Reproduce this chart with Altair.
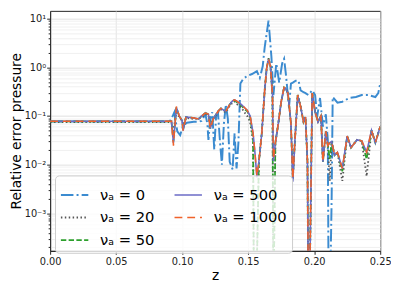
import altair as alt
import pandas as pd

labels = ["νₐ = 0", "νₐ = 20", "νₐ = 50", "νₐ = 500", "νₐ = 1000"]

# nu_a = 0
z0 = [0.0, 0.0904, 0.0919, 0.0941, 0.0963, 0.0985, 0.1007, 0.1036, 0.1088, 0.1125, 0.1147,
      0.1176, 0.1191, 0.1199, 0.1213, 0.1228, 0.1243, 0.1257, 0.1272, 0.1287, 0.1301, 0.1316,
      0.1331, 0.1346, 0.1360, 0.1382, 0.1397, 0.1412, 0.1426, 0.1441, 0.1463, 0.1493, 0.1529,
      0.1566, 0.1588, 0.1610, 0.1625, 0.1654, 0.1676, 0.1691, 0.1713, 0.1735, 0.1757, 0.1772,
      0.1787, 0.1809, 0.1824, 0.1838, 0.1860, 0.1882, 0.1897, 0.1919, 0.1934, 0.1956, 0.1985,
      0.2007, 0.2022, 0.2044, 0.2066, 0.2088, 0.2103, 0.2110, 0.2118, 0.2132, 0.2140, 0.2176,
      0.2213, 0.2265, 0.2316, 0.2360, 0.2412, 0.2463, 0.2485, 0.2500]
v0 = [0.077, 0.077, 0.0873, 0.120, 0.0486, 0.0406, 0.0637, 0.0729, 0.0763, 0.0763, 0.0798,
      0.109, 0.0697, 0.0324, 0.0873, 0.120, 0.0206, 0.100, 0.109, 0.0283, 0.0100, 0.0697,
      0.172, 0.0873, 0.0115, 0.00799, 0.0444, 0.00836, 0.0283, 0.465, 0.583, 0.667, 0.730,
      0.835, 0.609, 1.05, 2.58, 9.14, 1.64, 0.270, 1.20, 0.486, 1.20, 1.50,
      0.667, 0.150, 0.465, 0.486, 0.531, 0.531, 0.338, 0.309, 0.296, 0.270, 0.338,
      0.270, 0.0956, 0.235, 0.0609, 0.109, 0.0324, 0.00001, 0.00001, 0.00188, 0.246, 0.188,
      0.197, 0.235, 0.246, 0.270, 0.270, 0.246, 0.296, 0.465]

# nu_a = 20
z20 = [0.0, 0.0919, 0.0934, 0.0956, 0.0978, 0.1000, 0.1007, 0.1029, 0.1088, 0.1125, 0.1147,
       0.1176, 0.1199, 0.1213, 0.1235, 0.1272, 0.1294, 0.1316, 0.1331, 0.1360, 0.1382, 0.1397,
       0.1419, 0.1449, 0.1471, 0.1493, 0.1515, 0.1537, 0.1544, 0.1559, 0.1581, 0.1603, 0.1625,
       0.1640, 0.1654, 0.1669, 0.1684, 0.1691, 0.1706, 0.1728, 0.1750, 0.1772, 0.1787, 0.1801,
       0.1824, 0.1838, 0.1853, 0.1875, 0.1897, 0.1919, 0.1934, 0.1949, 0.1956, 0.1963, 0.1985,
       0.2007, 0.2029, 0.2051, 0.2066, 0.2088, 0.2103, 0.2118, 0.2132, 0.2154, 0.2176, 0.2213,
       0.2250, 0.2279, 0.2324, 0.2360, 0.2397, 0.2434, 0.2463, 0.2485, 0.2500]
v20 = [0.075, 0.075, 0.050, 0.120, 0.095, 0.0798, 0.060, 0.0913, 0.0873, 0.0873, 0.0956,
       0.109, 0.105, 0.060, 0.0873, 0.120, 0.137, 0.125, 0.120, 0.160, 0.190, 0.200,
       0.172, 0.150, 0.120, 0.100, 0.075, 0.030, 0.00001, 0.00001, 0.0115, 0.0444, 0.338,
       0.957, 1.55, 1.05, 0.270, 0.00001, 0.0283, 0.0697, 0.197, 0.387, 0.354, 0.296,
       0.0697, 0.00508, 0.0283, 0.270, 0.157, 0.0763, 0.0956, 0.0115, 0.00001, 0.00001, 0.296,
       0.120, 0.0763, 0.100, 0.0115, 0.0486, 0.0247, 0.00464, 0.030, 0.0157, 0.0180, 0.00464,
       0.0388, 0.0225, 0.0324, 0.0309, 0.0058, 0.0508, 0.0283, 0.0444, 0.0609]

# nu_a = 50
z50 = [0.0, 0.0919, 0.0934, 0.0956, 0.0978, 0.1000, 0.1007, 0.1029, 0.1088, 0.1125, 0.1147,
       0.1176, 0.1199, 0.1213, 0.1235, 0.1272, 0.1294, 0.1316, 0.1331, 0.1360, 0.1382, 0.1397,
       0.1419, 0.1449, 0.1471, 0.1493, 0.1515, 0.1537, 0.1544, 0.1559, 0.1581, 0.1603, 0.1625,
       0.1640, 0.1654, 0.1669, 0.1684, 0.1691, 0.1706, 0.1728, 0.1750, 0.1772, 0.1787, 0.1801,
       0.1824, 0.1838, 0.1853, 0.1875, 0.1897, 0.1919, 0.1934, 0.1949, 0.1956, 0.1963, 0.1985,
       0.2007, 0.2029, 0.2051, 0.2066, 0.2088, 0.2103, 0.2118, 0.2132, 0.2154, 0.2176, 0.2213,
       0.2250, 0.2279, 0.2324, 0.2360, 0.2397, 0.2434, 0.2463, 0.2485, 0.2500]
v50 = [0.078, 0.078, 0.030, 0.150, 0.100, 0.0798, 0.052, 0.0956, 0.0913, 0.0873, 0.100,
       0.115, 0.109, 0.0556, 0.0873, 0.125, 0.144, 0.131, 0.125, 0.172, 0.206, 0.210,
       0.188, 0.165, 0.140, 0.125, 0.0956, 0.035, 0.00001, 0.00001, 0.0115, 0.0444, 0.338,
       0.957, 1.50, 1.05, 0.270, 0.00001, 0.0283, 0.0697, 0.197, 0.387, 0.354, 0.296,
       0.0697, 0.00508, 0.0283, 0.270, 0.157, 0.0763, 0.0956, 0.0115, 0.00001, 0.00001, 0.296,
       0.120, 0.0763, 0.100, 0.0115, 0.0486, 0.0247, 0.0131, 0.030, 0.0157, 0.0180, 0.00729,
       0.0388, 0.0225, 0.0324, 0.0309, 0.0131, 0.0508, 0.0283, 0.0444, 0.0609]

# nu_a = 500
z500 = [0.0, 0.0919, 0.0934, 0.0956, 0.0978, 0.1000, 0.1007, 0.1029, 0.1088, 0.1125, 0.1147,
        0.1176, 0.1199, 0.1213, 0.1235, 0.1272, 0.1294, 0.1316, 0.1331, 0.1360, 0.1382, 0.1397,
        0.1419, 0.1449, 0.1471, 0.1493, 0.1515, 0.1537, 0.1551, 0.1566, 0.1581, 0.1603, 0.1625,
        0.1640, 0.1654, 0.1669, 0.1684, 0.1691, 0.1706, 0.1728, 0.1750, 0.1772, 0.1787, 0.1801,
        0.1824, 0.1838, 0.1853, 0.1875, 0.1897, 0.1919, 0.1934, 0.1949, 0.1956, 0.1963, 0.1985,
        0.2007, 0.2029, 0.2051, 0.2066, 0.2088, 0.2103, 0.2118, 0.2132, 0.2154, 0.2176, 0.2213,
        0.2250, 0.2279, 0.2324, 0.2360, 0.2397, 0.2434, 0.2463, 0.2485, 0.2500]
v500 = [0.078, 0.078, 0.028, 0.150, 0.100, 0.0798, 0.050, 0.0956, 0.0913, 0.0873, 0.100,
        0.115, 0.109, 0.0556, 0.0873, 0.125, 0.144, 0.131, 0.125, 0.172, 0.206, 0.215,
        0.197, 0.172, 0.150, 0.131, 0.100, 0.0444, 0.0180, 0.0055, 0.0115, 0.0444, 0.338,
        0.957, 1.48, 1.05, 0.270, 0.0120, 0.0283, 0.0697, 0.197, 0.380, 0.354, 0.296,
        0.0697, 0.0045, 0.0283, 0.265, 0.157, 0.0763, 0.0956, 0.0115, 0.00001, 0.00001, 0.296,
        0.120, 0.0763, 0.100, 0.0115, 0.0486, 0.0247, 0.0283, 0.030, 0.0157, 0.0180, 0.00836,
        0.0388, 0.0225, 0.0324, 0.0309, 0.0180, 0.0508, 0.0283, 0.0444, 0.0609]

# nu_a = 1000
z1000 = z500
v1000 = [0.078, 0.078, 0.0247, 0.157, 0.100, 0.0798, 0.050, 0.0956, 0.0913, 0.0873, 0.100,
         0.115, 0.109, 0.0556, 0.0873, 0.125, 0.144, 0.131, 0.125, 0.172, 0.206, 0.215,
         0.197, 0.172, 0.150, 0.131, 0.100, 0.0444, 0.0180, 0.00582, 0.0115, 0.0444, 0.338,
         0.957, 1.50, 1.05, 0.270, 0.0131, 0.0283, 0.0697, 0.197, 0.387, 0.354, 0.296,
         0.0697, 0.00508, 0.0283, 0.270, 0.157, 0.0763, 0.0956, 0.0115, 0.00001, 0.00001, 0.296,
         0.120, 0.0763, 0.100, 0.0115, 0.0486, 0.0247, 0.0283, 0.030, 0.0157, 0.0180, 0.00836,
         0.0388, 0.0225, 0.0324, 0.0309, 0.0180, 0.0508, 0.0283, 0.0444, 0.0609]

series = [(labels[0], z0, v0), (labels[1], z20, v20), (labels[2], z50, v50),
          (labels[3], z500, v500), (labels[4], z1000, v1000)]

rows = []
for lab, zs, vs in series:
    for i, (z, v) in enumerate(zip(zs, vs)):
        rows.append({"z": z, "v": v, "series": lab, "i": i})
df = pd.DataFrame(rows)

colors = {labels[0]: "#3b8bd0", labels[1]: "#555555", labels[2]: "#2ca02c",
          labels[3]: "#6b6bc6", labels[4]: "#f0622a"}
dashes = {labels[0]: [12.8, 3.2, 2, 3.2], labels[1]: [1.5, 2.5], labels[2]: [5.5, 2.4],
          labels[3]: [1, 0], labels[4]: [8, 5]}
widths = {labels[0]: 2, labels[1]: 1.5, labels[2]: 1.5, labels[3]: 2, labels[4]: 2}

legend_order = labels

x_ticks = [0.0, 0.05, 0.10, 0.15, 0.20, 0.25]
y_ticks = [0.0002, 0.0003, 0.0004, 0.0005, 0.0006, 0.0007, 0.0008, 0.0009,
           0.001, 0.002, 0.003, 0.004, 0.005, 0.006, 0.007, 0.008, 0.009,
           0.01, 0.02, 0.03, 0.04, 0.05, 0.06, 0.07, 0.08, 0.09,
           0.1, 0.2, 0.3, 0.4, 0.5, 0.6, 0.7, 0.8, 0.9,
           1, 2, 3, 4, 5, 6, 7, 8, 9, 10]

major_test = ("datum.value == 0.001 || datum.value == 0.01 || datum.value == 0.1 || "
              "datum.value == 1 || datum.value == 10")
label_expr = ("datum.value == 10 ? '10¹' : datum.value == 1 ? '10⁰' : "
              "datum.value == 0.1 ? '10⁻¹' : datum.value == 0.01 ? '10⁻²' : "
              "datum.value == 0.001 ? '10⁻³' : ''")

color_scale = alt.Scale(domain=legend_order, range=[colors[l] for l in legend_order])
dash_scale = alt.Scale(domain=legend_order, range=[dashes[l] for l in legend_order])
width_scale = alt.Scale(domain=legend_order, range=[widths[l] for l in legend_order])

x_enc = alt.X("z:Q", scale=alt.Scale(domain=[0, 0.25], nice=False, zero=False),
              axis=alt.Axis(values=x_ticks, format=".2f", title="z", titleFontSize=14,
                            titleFontWeight="normal", titlePadding=3, labelFontSize=10,
                            tickSize=3.5, labelPadding=2, labelFlush=False,
                            gridColor="#dddddd", gridWidth=0.8))
y_enc = alt.Y("v:Q", scale=alt.Scale(type="log", domain=[0.00017, 14.5], nice=False),
              axis=alt.Axis(values=y_ticks, labelExpr=label_expr,
                            title="Relative error pressure", titleFontSize=14,
                            titleFontWeight="normal", titlePadding=1, labelFontSize=10,
                            labelPadding=1, labelFlush=False,
                            tickSize={"condition": {"test": major_test, "value": 3.5}, "value": 2},
                            gridColor={"condition": {"test": major_test, "value": "#d8d8d8"},
                                       "value": "#ececec"},
                            gridWidth=0.8))

layers = []
for lab, _, _ in series:
    layers.append(
        alt.Chart(df).transform_filter(alt.datum.series == lab)
        .mark_line(clip=True, strokeCap="butt")
        .encode(
            x=x_enc, y=y_enc, order="i:Q",
            color=alt.Color("series:N", scale=color_scale, legend=alt.Legend(
                title=None, orient="none", legendX=5, legendY=168, columns=2,
                symbolType="stroke", symbolSize=784, symbolStrokeWidth=1.8,
                labelFontSize=15, labelOffset=11, columnPadding=16, rowPadding=-18,
                padding=5, fillColor="rgba(255,255,255,0.8)", strokeColor="#cccccc",
                cornerRadius=4, labelLimit=200)),
            strokeDash=alt.StrokeDash("series:N", scale=dash_scale, legend=None),
            strokeWidth=alt.StrokeWidth("series:N", scale=width_scale, legend=None),
        )
    )

chart = alt.layer(*layers).properties(
    width=337, height=245,
    autosize=alt.AutoSizeParams(type="none"),
    padding={"left": 43, "top": 0, "right": 11, "bottom": 34},
).configure(
    font="DejaVu Sans"
).configure_view(stroke="#222222", strokeWidth=1).configure_axis(
    domainColor="#222222", tickColor="#222222", labelColor="#222222", titleColor="#000000"
)

chart.save("out.html", embed_options={"renderer": "svg", "actions": False})
